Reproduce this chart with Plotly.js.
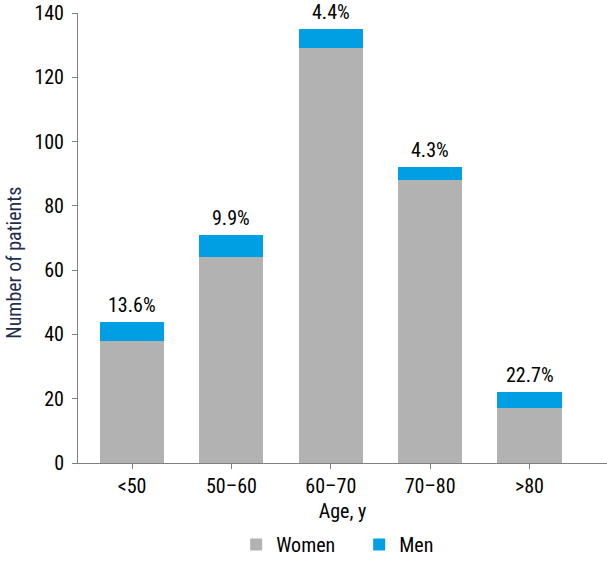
<!DOCTYPE html>
<html>
<head>
<meta charset="utf-8">
<script src="https://cdn.plot.ly/plotly-3.0.1.min.js"></script>
<style>html,body{margin:0;padding:0;background:#fff;}#chart{width:607px;height:564px;}</style>
</head>
<body>
<div id="chart"></div>
<script>
var categories = ["<50", "50\u201360", "60\u201370", "70\u201380", ">80"];
var women = [38, 64, 129, 88, 17];
var men = [6, 7, 6, 4, 5];
var menPercentLabels = ["13.6%", "9.9%", "4.4%", "4.3%", "22.7%"];
var yTicks = [0, 20, 40, 60, 80, 100, 120, 140];

var FONT = '"Roboto Condensed", "DejaVu Sans", sans-serif';
var FS = 20;

var traces = [
  {type: 'bar', name: 'Women', x: categories, y: women, width: 0.645,
   marker: {color: '#b2b2b2'}, hoverinfo: 'none'},
  {type: 'bar', name: 'Men', x: categories, y: men, width: 0.645,
   marker: {color: '#009fe3'}, hoverinfo: 'none'}
];

var annotations = categories.map(function (c, i) {
  return {x: c, y: women[i] + men[i], xref: 'x', yref: 'y', text: menPercentLabels[i],
          showarrow: false, yanchor: 'bottom', yshift: 3,
          font: {family: FONT, size: FS, color: '#000'}};
});
annotations.push({x: -0.121, y: 0.445, xref: 'paper', yref: 'paper', text: 'Number of patients',
  textangle: -90, showarrow: false, xanchor: 'center', yanchor: 'middle',
  font: {family: FONT, size: FS, color: '#1f2d4d'}});

var layout = {
  width: 607, height: 564,
  margin: {l: 78, r: 0, t: 13, b: 100},
  paper_bgcolor: '#fff', plot_bgcolor: '#fff',
  barmode: 'stack',
  font: {family: FONT, size: FS, color: '#000'},
  xaxis: {type: 'category', range: [-0.544, 4.78], showgrid: false, zeroline: false,
    showline: true, linecolor: '#808080', linewidth: 1,
    ticks: 'outside', ticklen: 5, tickcolor: '#808080',
    tickfont: {family: FONT, size: FS, color: '#000'},
    title: {text: 'Age, y', standoff: 6, font: {family: FONT, size: FS, color: '#000'}}},
  yaxis: {range: [0, 140], tickvals: yTicks, showgrid: false, zeroline: false,
    showline: true, linecolor: '#808080', linewidth: 1,
    ticks: 'outside', ticklen: 5, tickcolor: '#808080', ticklabelstandoff: 4,
    tickfont: {family: FONT, size: FS, color: '#000'}},
  showlegend: true,
  legend: {orientation: 'h', x: 0.299, xanchor: 'left', y: -0.181, yanchor: 'middle',
    font: {family: FONT, size: FS, color: '#000'}, entrywidth: 78, traceorder: 'normal'},
  annotations: annotations
};

Plotly.newPlot('chart', traces, layout, {displayModeBar: false, staticPlot: true});
</script>
</body>
</html>
